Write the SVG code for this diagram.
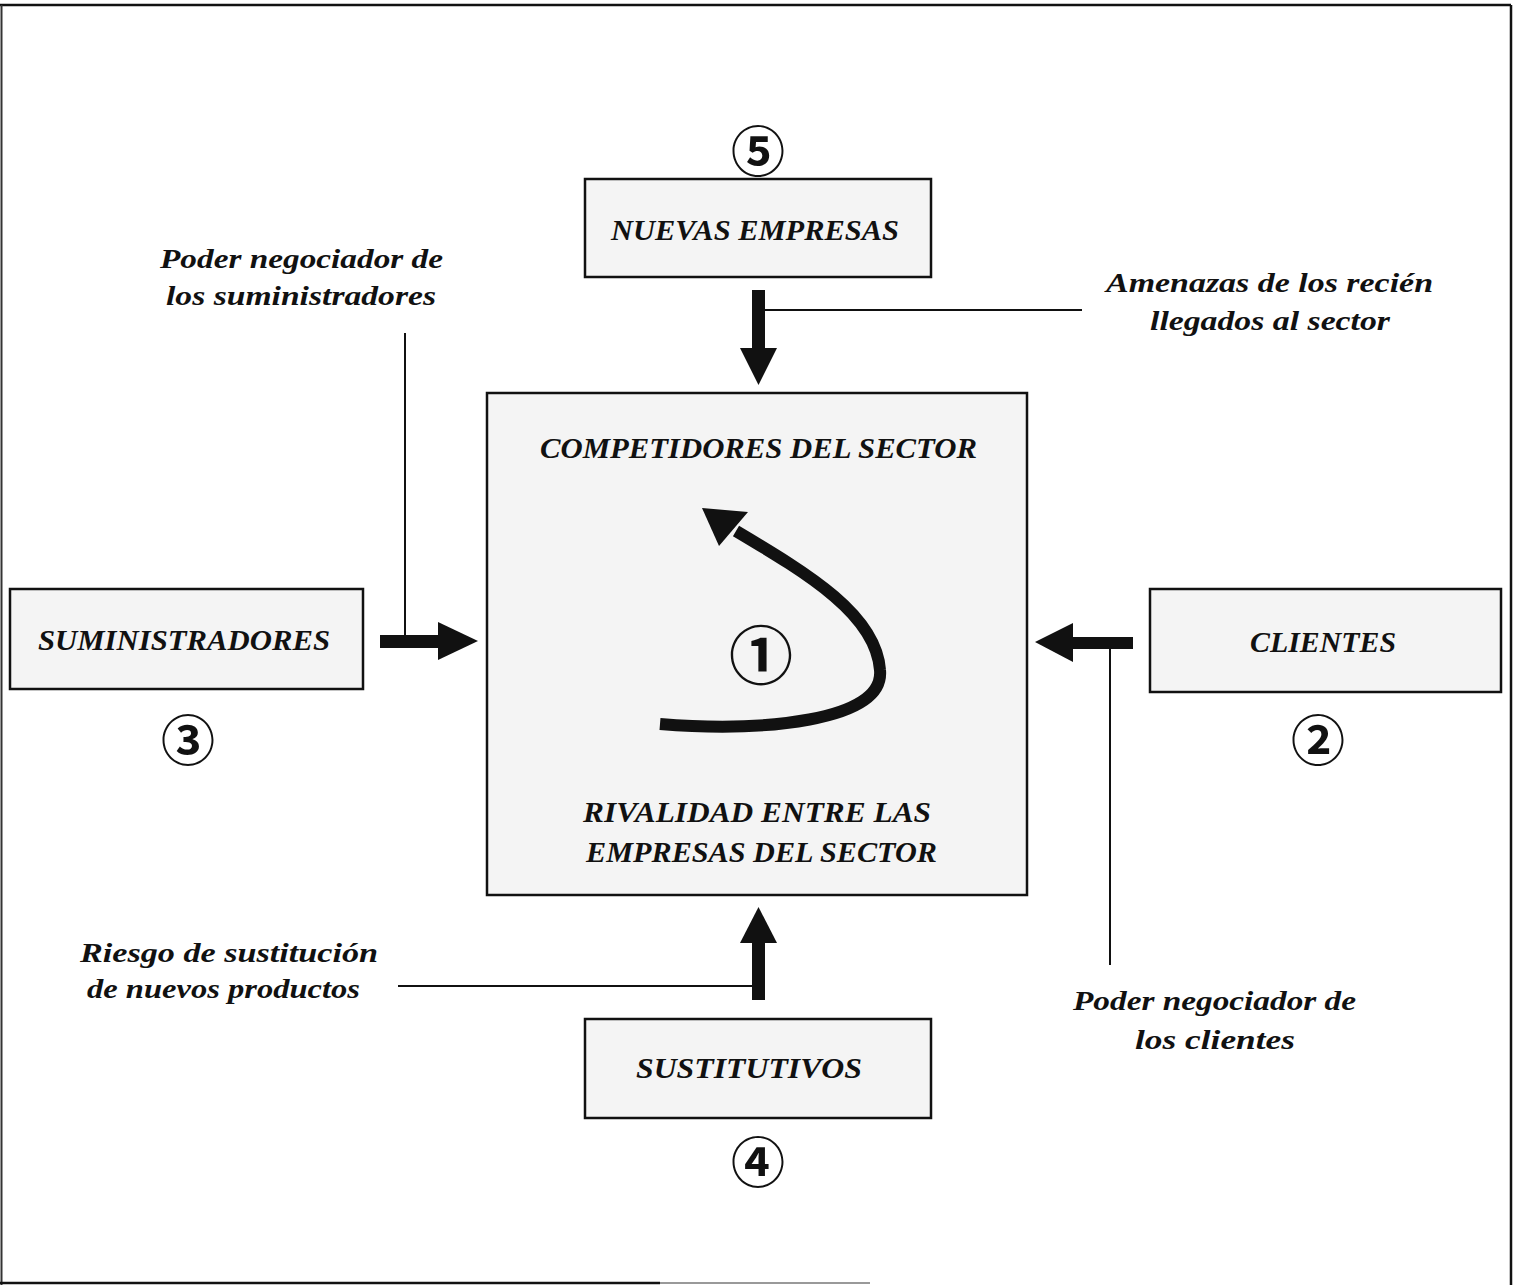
<svg xmlns="http://www.w3.org/2000/svg" width="1519" height="1285" viewBox="0 0 1519 1285">
<style>
.box{fill:#f4f4f4;stroke:#111;stroke-width:2.5}
.t{font-family:"Liberation Serif","Times New Roman",serif;font-weight:bold;font-style:italic;fill:#111}
.cap{font-size:29px}
.low{font-size:27px}
.num{font-family:"Noto Sans CJK JP","DejaVu Sans",sans-serif;font-weight:bold;fill:#111;text-anchor:middle;dominant-baseline:central}
.ln{stroke:#111;stroke-width:2;fill:none}
.ar{fill:#111}
</style>
<rect width="1519" height="1285" fill="#ffffff"/>
<g id="frame">
<line x1="0" y1="5" x2="1511" y2="5" stroke="#111" stroke-width="2.5"/>
<line x1="1.5" y1="5" x2="1.5" y2="1285" stroke="#333" stroke-width="2"/>
<line x1="1511" y1="5" x2="1511" y2="1285" stroke="#111" stroke-width="2.5"/>
<line x1="0" y1="1283" x2="660" y2="1283" stroke="#111" stroke-width="2.5"/>
<line x1="660" y1="1283" x2="870" y2="1283" stroke="#777" stroke-width="1.5"/>
</g>
<g id="node-nuevas">
<rect class="box" x="585" y="179" width="346" height="98"/>
<text class="t cap" x="611" y="240" textLength="288" lengthAdjust="spacingAndGlyphs">NUEVAS EMPRESAS</text>
<text class="num" x="758" y="148" font-size="54">⑤</text>
</g>
<g id="node-central">
<rect class="box" x="487" y="393" width="540" height="502"/>
<text class="t cap" x="540" y="458" textLength="437" lengthAdjust="spacingAndGlyphs">COMPETIDORES DEL SECTOR</text>
<text class="t cap" x="583" y="822" textLength="348" lengthAdjust="spacingAndGlyphs">RIVALIDAD ENTRE LAS</text>
<text class="t cap" x="586" y="862" textLength="351" lengthAdjust="spacingAndGlyphs">EMPRESAS DEL SECTOR</text>
<text class="num" x="761" y="651" font-size="64">①</text>
<path d="M660,724 C760,732 885,722 880,670 C876,615 810,575 736,531" stroke="#111" stroke-width="12" fill="none"/>
<polygon class="ar" points="702,508 748,512 719,546"/>
</g>
<g id="node-suministradores">
<rect class="box" x="10" y="589" width="353" height="100"/>
<text class="t cap" x="38" y="650" textLength="292" lengthAdjust="spacingAndGlyphs">SUMINISTRADORES</text>
<text class="num" x="188" y="737" font-size="54">③</text>
</g>
<g id="node-clientes">
<rect class="box" x="1150" y="589" width="351" height="103"/>
<text class="t cap" x="1250" y="652" textLength="146" lengthAdjust="spacingAndGlyphs">CLIENTES</text>
<text class="num" x="1318" y="737" font-size="54">②</text>
</g>
<g id="node-sustitutivos">
<rect class="box" x="585" y="1019" width="346" height="99"/>
<text class="t cap" x="636" y="1078" textLength="226" lengthAdjust="spacingAndGlyphs">SUSTITUTIVOS</text>
<text class="num" x="758" y="1159" font-size="54">④</text>
</g>
<g id="labels">
<text class="t low" x="160" y="268" textLength="283" lengthAdjust="spacingAndGlyphs">Poder negociador de</text>
<text class="t low" x="166" y="305" textLength="270" lengthAdjust="spacingAndGlyphs">los suministradores</text>
<text class="t low" x="1106" y="292" textLength="327" lengthAdjust="spacingAndGlyphs">Amenazas de los recién</text>
<text class="t low" x="1150" y="330" textLength="240" lengthAdjust="spacingAndGlyphs">llegados al sector</text>
<text class="t low" x="80" y="962" textLength="298" lengthAdjust="spacingAndGlyphs">Riesgo de sustitución</text>
<text class="t low" x="87" y="998" textLength="273" lengthAdjust="spacingAndGlyphs">de nuevos productos</text>
<text class="t low" x="1073" y="1010" textLength="283" lengthAdjust="spacingAndGlyphs">Poder negociador de</text>
<text class="t low" x="1135" y="1049" textLength="160" lengthAdjust="spacingAndGlyphs">los clientes</text>
</g>
<g id="connectors">
<rect class="ar" x="752" y="290" width="13" height="60"/>
<polygon class="ar" points="740,348 777,348 758.5,385"/>
<line class="ln" x1="758" y1="310" x2="1082" y2="310"/>
<rect class="ar" x="752" y="940" width="13" height="60"/>
<polygon class="ar" points="740,943 777,943 758.5,907"/>
<line class="ln" x1="398" y1="986" x2="758" y2="986"/>
<rect class="ar" x="380" y="635" width="60" height="13"/>
<polygon class="ar" points="438,622 438,660 478,641"/>
<line class="ln" x1="405" y1="333" x2="405" y2="641"/>
<rect class="ar" x="1071" y="637" width="62" height="12"/>
<polygon class="ar" points="1073,623 1073,662 1035,642"/>
<line class="ln" x1="1110" y1="643" x2="1110" y2="965"/>
</g>
</svg>
